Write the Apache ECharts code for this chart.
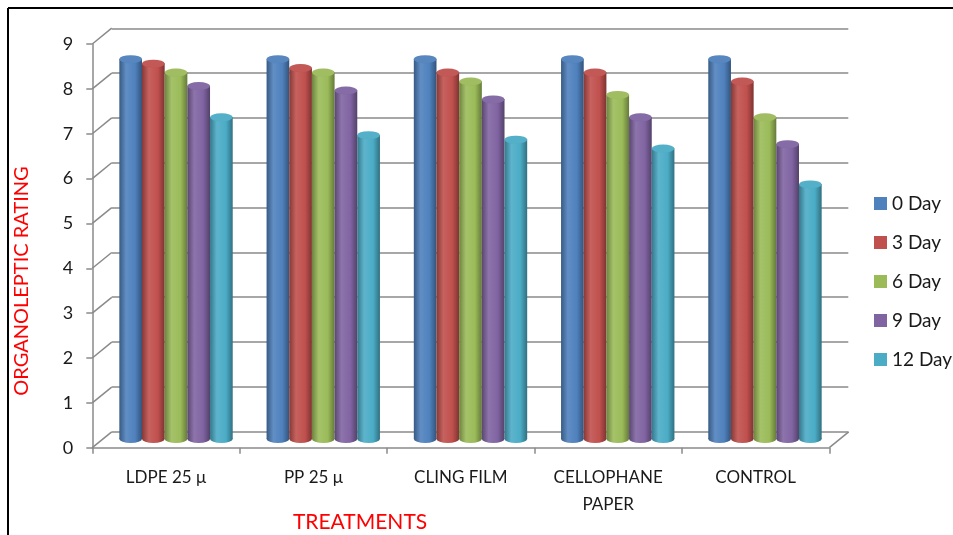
<!DOCTYPE html>
<html>
<head>
<meta charset="utf-8">
<script src="https://cdn.jsdelivr.net/npm/echarts@6/dist/echarts.min.js"></script>
<style>
  html, body { margin: 0; padding: 0; background: #fff; }
  #chart { width: 953px; height: 535px; }
</style>
</head>
<body>
<div id="chart"></div>
<script>
// categories + values
const categories = ['LDPE 25 μ', 'PP 25 μ', 'CLING FILM', 'CELLOPHANE\nPAPER', 'CONTROL'];
const seriesNames = ['0 Day', '3 Day', '6 Day', '9 Day', '12 Day'];
const day0  = [8.5, 8.5, 8.5, 8.5, 8.5];
const day3  = [8.4, 8.3, 8.2, 8.2, 8.0];
const day6  = [8.2, 8.2, 8.0, 7.7, 7.2];
const day9  = [7.9, 7.8, 7.6, 7.2, 6.6];
const day12 = [7.2, 6.8, 6.7, 6.5, 5.7];
const yTicks = [0, 1, 2, 3, 4, 5, 6, 7, 8, 9];

const allValues = [day0, day3, day6, day9, day12];
const colors = ['#4F81BD', '#C0504D', '#9BBB59', '#8064A2', '#4BACC6'];
const gridColor = '#8a8a8a';
const font = 'Lato, "Open Sans", sans-serif';
const depth = [19.4, -15.8];   // 3d wall offset

function shade(hex, f) {
    let n = parseInt(hex.slice(1), 16);
    let r = n >> 16, g = (n >> 8) & 255, b = n & 255;
    let t = f < 0 ? 0 : 255, p = Math.abs(f);
    r = Math.round((t - r) * p + r);
    g = Math.round((t - g) * p + g);
    b = Math.round((t - b) * p + b);
    return 'rgb(' + r + ',' + g + ',' + b + ')';
}

function cylinder(c) {
    return new echarts.graphic.LinearGradient(0, 0, 1, 0, [
        {offset: 0, color: shade(c, -0.3)},
        {offset: 0.3, color: shade(c, 0.1)},
        {offset: 0.7, color: c},
        {offset: 1, color: shade(c, -0.35)}
    ]);
}

let series = [];
// back wall split lines
series.push({
    type: 'bar', xAxisIndex: 0, yAxisIndex: 0, data: [], silent: true
});
// diagonals from front ticks to the back wall
series.push({
    type: 'custom', xAxisIndex: 1, yAxisIndex: 1, clip: false, silent: true, z: 1,
    data: yTicks.map(v => [0, v]),
    renderItem: function (params, api) {
        let p = api.coord([api.value(0), api.value(1)]);
        let x0 = p[0] - api.size([1, 0])[0] / 2;
        return {
            type: 'line',
            shape: {x1: x0, y1: p[1], x2: x0 + depth[0], y2: p[1] + depth[1]},
            style: {stroke: gridColor, lineWidth: 1.5}
        };
    }
});
series.push({
    type: 'custom', xAxisIndex: 1, yAxisIndex: 1, clip: false, silent: true, z: 1,
    data: [[categories.length - 1, 0]],
    renderItem: function (params, api) {
        let p = api.coord([api.value(0), api.value(1)]);
        let x0 = p[0] + api.size([1, 0])[0] / 2;
        return {
            type: 'line',
            shape: {x1: x0, y1: p[1], x2: x0 + depth[0], y2: p[1] + depth[1]},
            style: {stroke: gridColor, lineWidth: 1.5}
        };
    }
});

seriesNames.forEach((name, i) => {
    let c = colors[i];
    series.push({
        name: name,
        type: 'bar',
        xAxisIndex: 2, yAxisIndex: 2,
        barGap: '0%',
        barCategoryGap: '23%',
        z: 3,
        itemStyle: {color: cylinder(c)},
        data: allValues[i]
    });
    // top cap
    series.push({
        name: name + ' top',
        type: 'pictorialBar',
        xAxisIndex: 2, yAxisIndex: 2,
        barGap: '0%',
        barCategoryGap: '23%',
        symbol: 'circle',
        symbolSize: ['100%', 8],
        symbolPosition: 'end',
        symbolOffset: [0, '-50%'],
        z: 4,
        itemStyle: {color: shade(c, 0.05), borderColor: shade(c, -0.35), borderWidth: 1},
        data: allValues[i]
    });
    // bottom cap
    series.push({
        name: name + ' base',
        type: 'pictorialBar',
        xAxisIndex: 3, yAxisIndex: 2,
        barGap: '0%',
        barCategoryGap: '23%',
        symbol: 'circle',
        symbolSize: ['100%', 8],
        symbolPosition: 'start',
        symbolOffset: [0, '50%'],
        z: 2,
        itemStyle: {color: cylinder(c)},
        data: allValues[i]
    });
});

let option = {
    animation: false,
    color: colors,
    textStyle: {fontFamily: font},
    legend: {
        data: seriesNames.map((n, i) => ({name: n, itemStyle: {color: colors[i]}})),
        orient: 'vertical',
        left: 869,
        top: 189,
        icon: 'rect',
        itemWidth: 13,
        itemHeight: 13,
        itemGap: 20,
        textStyle: {fontSize: 19, color: '#1a1a1a', fontFamily: font}
    },
    grid: [
        {left: 111.7, right: 104.7, top: 28.3, bottom: 103.3},   // back wall
        {left: 92.3, right: 123.7, top: 44, bottom: 87.3},       // front axes
        {left: 102.4, right: 114.4, top: 36.5, bottom: 96}       // bars
    ],
    xAxis: [
        {gridIndex: 0, type: 'category', data: categories, show: false},
        {
            gridIndex: 1, type: 'category', data: categories,
            axisLine: {lineStyle: {color: gridColor, width: 1.5}},
            axisTick: {show: true, length: 6, lineStyle: {color: gridColor, width: 1.5}},
            axisLabel: {fontSize: 17, color: '#1a1a1a', margin: 16, lineHeight: 27, fontFamily: font}
        },
        {gridIndex: 2, type: 'category', data: categories, show: false},
        {gridIndex: 2, type: 'category', data: categories, show: false}
    ],
    yAxis: [
        {
            gridIndex: 0, type: 'value', min: 0, max: 9, interval: 1,
            axisLabel: {show: false}, axisLine: {show: false}, axisTick: {show: false},
            splitLine: {show: true, lineStyle: {color: gridColor, width: 1.5}}
        },
        {
            gridIndex: 1, type: 'value', min: 0, max: 9, interval: 1,
            axisLine: {show: true, lineStyle: {color: gridColor, width: 1.5}},
            axisTick: {show: true, length: 6, lineStyle: {color: gridColor, width: 1.5}},
            axisLabel: {fontSize: 18, color: '#1a1a1a', margin: 19, fontFamily: font},
            splitLine: {show: false}
        },
        {gridIndex: 2, type: 'value', min: 0, max: 9, interval: 1, show: false, splitLine: {show: false}}
    ],
    graphic: [
        {type: 'line', shape: {x1: 8, y1: 8, x2: 953, y2: 8}, style: {stroke: '#000', lineWidth: 2}},
        {type: 'line', shape: {x1: 8, y1: 8, x2: 8, y2: 535}, style: {stroke: '#000', lineWidth: 2}},
        {
            type: 'text', x: 22, y: 281, rotation: Math.PI / 2,
            style: {text: 'ORGANOLEPTIC RATING', fill: '#ff0000', font: '20px ' + font, textAlign: 'center', textVerticalAlign: 'middle'}
        },
        {
            type: 'text', x: 360, y: 522,
            style: {text: 'TREATMENTS', fill: '#ff0000', font: '21px ' + font, textAlign: 'center', textVerticalAlign: 'middle'}
        }
    ],
    series: series
};

let chart = echarts.init(document.getElementById('chart'));
chart.setOption(option);
</script>
</body>
</html>
